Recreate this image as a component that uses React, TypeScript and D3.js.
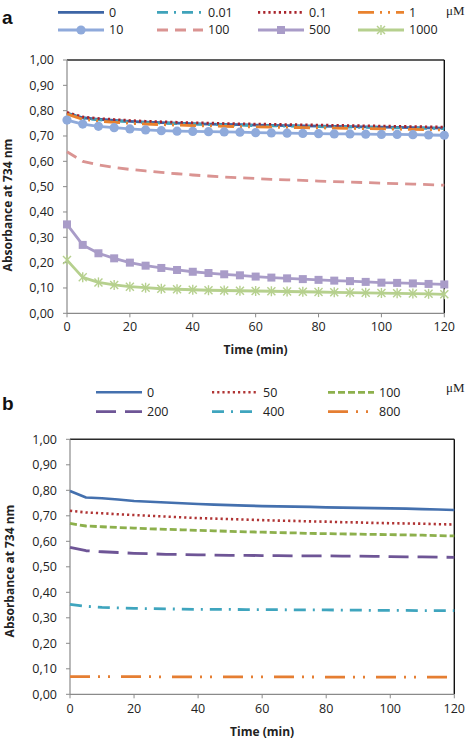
import React from "react";
import * as d3 from "d3";

// ---------- data ----------
const times = [0, 5, 10, 15, 20, 25, 30, 35, 40, 45, 50, 55, 60, 65, 70, 75, 80, 85, 90, 95, 100, 105, 110, 115, 120];
const xTicks = [0, 20, 40, 60, 80, 100, 120];
const yTicks = [0, 0.1, 0.2, 0.3, 0.4, 0.5, 0.6, 0.7, 0.8, 0.9, 1.0];

// panel a (µM)
const aNames = ["0", "0.01", "0.1", "1", "10", "100", "500", "1000"];
const a0 = [0.790, 0.772, 0.766, 0.762, 0.758, 0.755, 0.753, 0.751, 0.749, 0.747, 0.746, 0.745, 0.743, 0.742, 0.741, 0.740, 0.739, 0.738, 0.737, 0.736, 0.735, 0.734, 0.733, 0.732, 0.731];
const a001 = [0.788, 0.770, 0.764, 0.760, 0.756, 0.753, 0.751, 0.749, 0.747, 0.745, 0.744, 0.743, 0.741, 0.740, 0.739, 0.738, 0.737, 0.736, 0.735, 0.734, 0.733, 0.732, 0.731, 0.730, 0.729];
const a01 = [0.793, 0.775, 0.769, 0.765, 0.761, 0.758, 0.756, 0.754, 0.752, 0.751, 0.749, 0.748, 0.747, 0.746, 0.745, 0.744, 0.743, 0.742, 0.741, 0.740, 0.739, 0.738, 0.737, 0.736, 0.735];
const a1 = [0.786, 0.766, 0.759, 0.754, 0.750, 0.747, 0.745, 0.743, 0.741, 0.740, 0.738, 0.737, 0.736, 0.735, 0.734, 0.733, 0.732, 0.731, 0.730, 0.729, 0.728, 0.727, 0.726, 0.725, 0.724];
const a10 = [0.763, 0.747, 0.738, 0.733, 0.728, 0.724, 0.721, 0.719, 0.718, 0.717, 0.716, 0.715, 0.713, 0.712, 0.711, 0.710, 0.709, 0.708, 0.708, 0.707, 0.706, 0.706, 0.705, 0.704, 0.703];
const a100 = [0.638, 0.600, 0.586, 0.576, 0.568, 0.562, 0.556, 0.551, 0.546, 0.542, 0.538, 0.535, 0.532, 0.529, 0.527, 0.525, 0.522, 0.520, 0.518, 0.516, 0.514, 0.512, 0.510, 0.508, 0.506];
const a500 = [0.351, 0.270, 0.237, 0.217, 0.200, 0.188, 0.179, 0.171, 0.164, 0.159, 0.154, 0.150, 0.145, 0.141, 0.138, 0.135, 0.132, 0.129, 0.127, 0.124, 0.121, 0.120, 0.118, 0.116, 0.114];
const a1000 = [0.210, 0.142, 0.122, 0.112, 0.105, 0.101, 0.097, 0.095, 0.093, 0.091, 0.090, 0.089, 0.088, 0.087, 0.086, 0.085, 0.084, 0.083, 0.082, 0.081, 0.080, 0.079, 0.078, 0.077, 0.075];

// panel b (µM)
const bNames = ["0", "50", "100", "200", "400", "800"];
const b0 = [0.797, 0.772, 0.769, 0.764, 0.758, 0.755, 0.752, 0.749, 0.746, 0.744, 0.742, 0.740, 0.738, 0.737, 0.736, 0.735, 0.733, 0.732, 0.731, 0.730, 0.729, 0.728, 0.726, 0.725, 0.723];
const b50 = [0.720, 0.713, 0.710, 0.706, 0.703, 0.700, 0.697, 0.694, 0.691, 0.689, 0.687, 0.685, 0.683, 0.681, 0.680, 0.678, 0.677, 0.675, 0.674, 0.672, 0.671, 0.670, 0.669, 0.667, 0.666];
const b100 = [0.670, 0.660, 0.657, 0.654, 0.652, 0.649, 0.647, 0.645, 0.643, 0.641, 0.639, 0.637, 0.636, 0.634, 0.633, 0.631, 0.630, 0.629, 0.628, 0.627, 0.626, 0.625, 0.624, 0.622, 0.621];
const b200 = [0.576, 0.563, 0.559, 0.556, 0.553, 0.551, 0.549, 0.548, 0.547, 0.546, 0.545, 0.545, 0.544, 0.544, 0.543, 0.543, 0.543, 0.542, 0.542, 0.541, 0.540, 0.539, 0.539, 0.538, 0.537];
const b400 = [0.353, 0.345, 0.341, 0.339, 0.337, 0.336, 0.335, 0.334, 0.333, 0.333, 0.333, 0.332, 0.332, 0.332, 0.331, 0.331, 0.331, 0.330, 0.330, 0.329, 0.329, 0.329, 0.328, 0.328, 0.328];
const b800 = [0.069, 0.069, 0.069, 0.069, 0.069, 0.069, 0.068, 0.068, 0.068, 0.068, 0.068, 0.068, 0.068, 0.068, 0.068, 0.068, 0.067, 0.067, 0.067, 0.067, 0.067, 0.067, 0.067, 0.067, 0.067];

// ---------- styles ----------
type Sty = { color: string; width: number; dash?: string; marker?: "circle" | "square" | "star" };

const aStyles: Sty[] = [
  { color: "#3D65A5", width: 2.8 },
  { color: "#3FA3BA", width: 2.8, dash: "11 6 2 6" },
  { color: "#A8232B", width: 2.8, dash: "2.2 3" },
  { color: "#E9822E", width: 2.8, dash: "16 6 2 6 2 6" },
  { color: "#8FAADB", width: 2.8, marker: "circle" },
  { color: "#DA9492", width: 2.8, dash: "11 7" },
  { color: "#A99CC8", width: 2.8, marker: "square" },
  { color: "#B6D08E", width: 2.8, marker: "star" },
];
const bStyles: Sty[] = [
  { color: "#4470AE", width: 2.6 },
  { color: "#B03434", width: 2.6, dash: "2.2 3" },
  { color: "#8DB04C", width: 2.8, dash: "7 3" },
  { color: "#6E5596", width: 2.8, dash: "20 9" },
  { color: "#3FA5BE", width: 2.8, dash: "12 7 2 7" },
  { color: "#E57E32", width: 2.8, dash: "20 8 2 8 2 11" },
];

const FONT = "'Open Sans', Lato, sans-serif";
const fmt = (v: number) => d3.format(".2f")(v).replace(".", ",");

function Marker({ kind, x, y, color }: { kind?: string; x: number; y: number; color: string }) {
  if (kind === "circle") return <circle cx={x} cy={y} r={4.6} fill={color} />;
  if (kind === "square") return <rect x={x - 4} y={y - 4} width={8} height={8} fill={color} />;
  if (kind === "star") {
    const r = 4;
    return (
      <g stroke={color} strokeWidth={1.4}>
        <line x1={x - r} y1={y - r} x2={x + r} y2={y + r} />
        <line x1={x - r} y1={y + r} x2={x + r} y2={y - r} />
        <line x1={x} y1={y - r - 1} x2={x} y2={y + r + 1} />
      </g>
    );
  }
  return null;
}

type PanelProps = {
  left: number; right: number; top: number; bottom: number;
  series: number[][]; styles: Sty[]; names: string[];
  legendCols: number[]; legendRows: number[]; nCols: number;
  letter: string; letterY: number; muY: number;
  titleX: number; titleY: number; xLabY: number; timeY: number;
};

function Panel(p: PanelProps) {
  const x = d3.scaleLinear().domain([0, 120]).range([p.left, p.right]);
  const y = d3.scaleLinear().domain([0, 1]).range([p.bottom, p.top]);
  const line = d3.line<number>().x((_, i) => x(times[i])).y((d) => y(d));
  return (
    <g fontFamily={FONT}>
      {/* frame top and right */}
      <line x1={p.left} x2={p.right} y1={p.top} y2={p.top} stroke="#2a2a2a" strokeWidth={1.6} />
      <line x1={p.right} x2={p.right} y1={p.top} y2={p.bottom} stroke="#111" strokeWidth={1.4} />
      {/* y axis */}
      <line x1={p.left} x2={p.left} y1={p.top} y2={p.bottom} stroke="#8a8a8a" strokeWidth={1.2} />
      {yTicks.map((t) => (
        <g key={t}>
          <line x1={p.left - 4} x2={p.left} y1={y(t)} y2={y(t)} stroke="#8a8a8a" strokeWidth={1} />
          <text x={p.left - 13} y={y(t) + 4.4} textAnchor="end" fontSize={12.5} fill="#222">{fmt(t)}</text>
        </g>
      ))}
      {/* x axis */}
      <line x1={p.left} x2={p.right} y1={p.bottom} y2={p.bottom} stroke="#8a8a8a" strokeWidth={1.2} />
      {xTicks.map((t) => (
        <g key={t}>
          <line x1={x(t)} x2={x(t)} y1={p.bottom} y2={p.bottom + 4} stroke="#8a8a8a" strokeWidth={1} />
          <text x={x(t)} y={p.xLabY} textAnchor="middle" fontSize={12.5} fill="#222">{t}</text>
        </g>
      ))}
      <text x={(p.left + p.right) / 2} y={p.timeY} textAnchor="middle" fontSize={12} fontWeight="bold" fill="#222">Time (min)</text>
      <text transform={`translate(${p.titleX},${p.titleY}) rotate(-90)`} textAnchor="middle" fontSize={12} fontWeight="bold" fill="#222">Absorbance at 734 nm</text>
      {/* series */}
      {p.series.map((s, i) => {
        const st = p.styles[i];
        return (
          <g key={i}>
            <path d={line(s) || ""} fill="none" stroke={st.color} strokeWidth={st.width} strokeDasharray={st.dash} strokeLinejoin="round" />
            {st.marker && s.map((v, j) => <Marker key={j} kind={st.marker} x={x(times[j])} y={y(v)} color={st.color} />)}
          </g>
        );
      })}
      {/* legend */}
      {p.names.map((n, i) => {
        const st = p.styles[i];
        const cx = p.legendCols[i % p.nCols];
        const cy = p.legendRows[Math.floor(i / p.nCols)];
        return (
          <g key={n + i}>
            <line x1={cx} x2={cx + 46} y1={cy} y2={cy} stroke={st.color} strokeWidth={st.width} strokeDasharray={st.dash} />
            {st.marker && <Marker kind={st.marker} x={cx + 23} y={cy} color={st.color} />}
            <text x={cx + 51} y={cy + 4.4} fontSize={12.5} fill="#222">{n}</text>
          </g>
        );
      })}
      <text x={446} y={p.muY} fontFamily="'Liberation Serif', 'DejaVu Serif', serif" fontSize={13} fill="#222">μM</text>
      <text x={2} y={p.letterY} fontFamily="'Liberation Sans', Arial, sans-serif" fontWeight="bold" fontSize={19} fill="#111">{p.letter}</text>
    </g>
  );
}

export default function App() {
  return (
    <div style={{ position: "absolute", left: 0, top: 0 }}>
      <svg width={472} height={740} style={{ display: "block", background: "#fff" }}>
        <Panel
          left={67} right={444.3} top={60} bottom={313.3}
          series={[a0, a001, a01, a1, a10, a100, a500, a1000]}
          styles={aStyles} names={aNames}
          legendCols={[58, 157, 258, 358]} legendRows={[12.3, 30]} nCols={4}
          letter="a" letterY={24} muY={15}
          titleX={12} titleY={205} xLabY={331} timeY={354}
        />
        <Panel
          left={70} right={454.3} top={439.3} bottom={694.3}
          series={[b0, b50, b100, b200, b400, b800]}
          styles={bStyles} names={bNames}
          legendCols={[96, 212, 328]} legendRows={[392.3, 411.7]} nCols={3}
          letter="b" letterY={410} muY={392}
          titleX={14} titleY={571} xLabY={712.5} timeY={736}
        />
      </svg>
    </div>
  );
}
